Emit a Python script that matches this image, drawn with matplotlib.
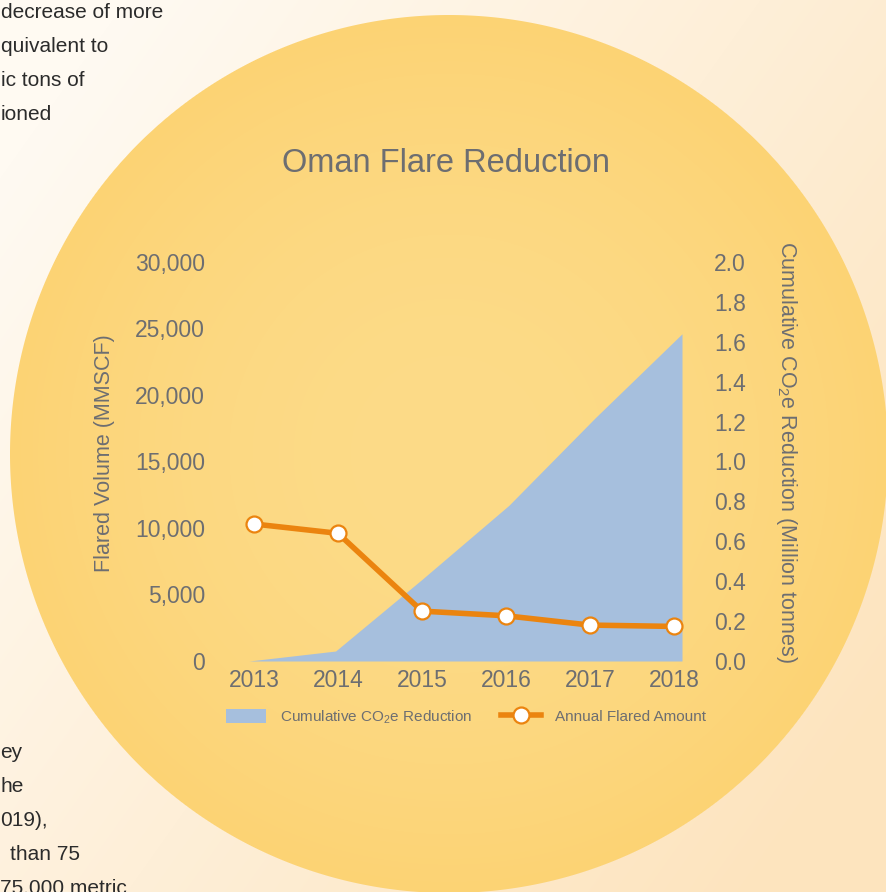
import numpy as np
import matplotlib
matplotlib.use("Agg")
from matplotlib import pyplot as plt
from matplotlib.patches import Patch
from matplotlib.lines import Line2D

# データ
years = [2013, 2014, 2015, 2016, 2017, 2018]
flared_volume = [10300, 9600, 3750, 3400, 2700, 2600]   # MMSCF
co2e_reduction = [0.0, 0.05, 0.41, 0.78, 1.22, 1.64]    # Million tonnes

left_ticks = [0, 5000, 10000, 15000, 20000, 25000, 30000]
right_ticks = [0.0, 0.2, 0.4, 0.6, 0.8, 1.0, 1.2, 1.4, 1.6, 1.8, 2.0]

top_text = ["decrease of more", "quivalent to", "ic tons of", "ioned"]
bottom_text = ["ey", "he", "019),", "than 75", "75,000 metric"]

GRAY = "#6d6e71"
ORANGE = "#eb840f"
BLUE = "#a6bfdd"
FONT = ["Liberation Sans", "DejaVu Sans"]

plt.rcParams["mathtext.default"] = "regular"

W, H = 887, 892
fig = plt.figure(figsize=(W / 100, H / 100), dpi=100)
PX = 72 / 100  # 1 px を pt に

##### 背景 (クリーム色 + 黄色の円)
bg = fig.add_axes([0, 0, 1, 1])
bg.set_xlim(0, W)
bg.set_ylim(H, 0)
bg.axis("off")

yy, xx = np.mgrid[0:H, 0:W] + 0.5
cx, cy, r = 449, 454, 439
d = np.hypot(xx - cx, yy - cy)

def hex2rgb(h):
    h = h.lstrip("#")
    return np.array([int(h[i:i + 2], 16) / 255 for i in (0, 2, 4)])

out_a, out_b = hex2rgb("#fffaf2"), hex2rgb("#fde4be")
t_out = np.clip((xx / W) * 0.7 + (yy / H) * 0.5 - 0.1, 0, 1)[..., None]
outside = out_a * (1 - t_out) + out_b * t_out

in_a, in_b = hex2rgb("#fddb88"), hex2rgb("#fcd374")
t_in = np.clip(d / r, 0, 1)[..., None] ** 2
inside = in_a * (1 - t_in) + in_b * t_in

m = np.clip(r - d + 0.5, 0, 1)[..., None]
img = inside * m + outside * (1 - m)
bg.imshow(img, extent=(0, W, H, 0), interpolation="bilinear", zorder=0)

# 周囲の本文テキスト (元画像でも途中で切れている)
for i, s in enumerate(top_text):
    fig.text(1 / W, 1 - (18 + 34 * i) / H, s, fontsize=15, color="#2b2b2b",
             family=FONT, va="baseline", ha="left")
bx = [0, 0, 0, 10, 0]
for i, s in enumerate(bottom_text):
    fig.text(bx[i] / W, 1 - (758 + 34 * i) / H, s, fontsize=15, color="#2b2b2b",
             family=FONT, va="baseline", ha="left")

##### グラフ本体
pos = [249 / W, 1 - 661 / H, (682 - 249) / W, (661 - 262) / H]

# 面グラフ (右軸)
ax_area = fig.add_axes(pos)
ax_area.patch.set_alpha(0)
ax_area.fill_between(years, co2e_reduction, 0, color=BLUE, lw=0, zorder=1)
ax_area.set_xlim(years[0], years[-1])
ax_area.set_ylim(0, 2.0)
ax_area.set_xticks([])
ax_area.yaxis.tick_right()
ax_area.set_yticks(right_ticks)
ax_area.set_yticklabels([f"{v:.1f}" for v in right_ticks])
ax_area.tick_params(axis="y", length=0, pad=32 * PX, labelsize=16.5, labelcolor=GRAY)
for sp in ax_area.spines.values():
    sp.set_visible(False)

# 折れ線 (左軸)
ax = fig.add_axes(pos)
ax.patch.set_alpha(0)
ax.plot(years, flared_volume, color=ORANGE, lw=4, marker="o", ms=11.5,
        mfc="white", mec=ORANGE, mew=1.6, zorder=3, clip_on=False)
ax.set_xlim(2013 - 5 / 84, 2018 + 8 / 84)
ax.set_ylim(0, 30000)
ax.set_yticks(left_ticks)
ax.set_yticklabels([f"{v:,}" for v in left_ticks])
ax.set_xticks(years)
ax.tick_params(axis="y", length=0, pad=44 * PX, labelsize=16.5, labelcolor=GRAY)
ax.tick_params(axis="x", length=0, pad=8 * PX, labelsize=16.5, labelcolor=GRAY)
for sp in ax.spines.values():
    sp.set_visible(False)
for lab in ax.get_xticklabels() + ax.get_yticklabels() + ax_area.get_yticklabels():
    lab.set_family(FONT)

# タイトル・軸ラベル
fig.text(446 / W, 1 - 163 / H, "Oman Flare Reduction", fontsize=23.5, color=GRAY,
         family=FONT, ha="center", va="center")
fig.text(105 / W, 1 - 453 / H, "Flared Volume (MMSCF)", fontsize=15.5, color=GRAY,
         family=FONT, ha="center", va="center", rotation=90)
fig.text(787 / W, 1 - 452 / H, "Cumulative CO$_2$e Reduction (Million tonnes)",
         fontsize=15.5, color=GRAY, family=FONT, ha="center", va="center",
         rotation=270)

# 凡例
handles = [Patch(facecolor=BLUE, edgecolor="none"),
           Line2D([], [], color=ORANGE, lw=4, marker="o", ms=11.5,
                  mfc="white", mec=ORANGE, mew=1.6)]
leg = fig.legend(handles, ["Cumulative CO$_2$e Reduction", "Annual Flared Amount"],
                 loc="center", bbox_to_anchor=(466 / W, 1 - 717 / H), ncol=2,
                 frameon=False, handlelength=2.6, handleheight=1.0,
                 columnspacing=1.9, handletextpad=0.9,
                 prop={"family": FONT, "size": 11})
for txt in leg.get_texts():
    txt.set_color(GRAY)

fig.savefig("out.png", dpi=100)
